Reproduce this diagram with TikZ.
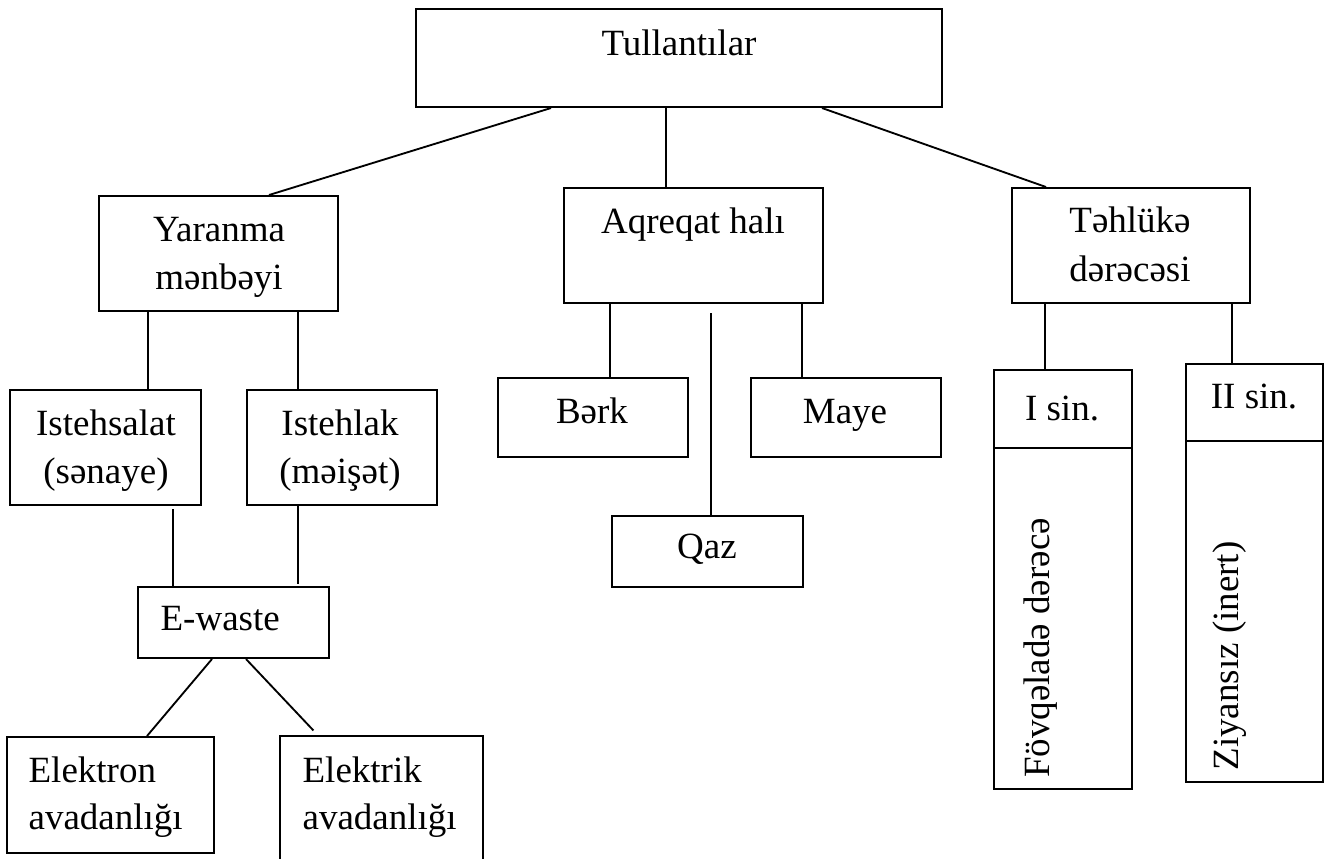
\documentclass[tikz,border=0pt]{standalone}
\usepackage{fontspec}
\setmainfont{Liberation Serif}
\usetikzlibrary{calc,fit}
\begin{document}
\begin{tikzpicture}[x=0.3243pt,y=-0.3243pt,
  box/.style={draw,line width=0.65pt,inner sep=0pt,rectangle},
  openbox/.style={inner sep=0pt,rectangle},
  txt/.style={font=\fontsize{12}{14}\selectfont,inner sep=0pt,anchor=base},
  ltxt/.style={txt,anchor=base west},
  vtxt/.style={txt,rotate=90},
  link/.style={line width=0.6pt}]
\useasboundingbox (0,0) rectangle (1334,858);
\fill[white] (0,0) rectangle (1334,858);

% boxes
\node[box,fit={(416,9) (942,107)}] (tul) {};
\node[box,fit={(99,196) (338,311)}] (yar) {};
\node[box,fit={(564,188) (823,303)}] (aqr) {};
\node[box,fit={(1012,188) (1250,303)}] (teh) {};
\node[box,fit={(10,390) (201,505)}] (ist1) {};
\node[box,fit={(247,390) (437,505)}] (ist2) {};
\node[box,fit={(498,378) (688,457)}] (berk) {};
\node[box,fit={(751,378) (941,457)}] (maye) {};
\node[box,fit={(612,516) (803,587)}] (qaz) {};
\node[box,fit={(994,370) (1132,789)}] (isin) {};
\node[box,fit={(1186,364) (1323,782)}] (iisin) {};
\node[box,fit={(138,587) (329,658)}] (ew) {};
\node[box,fit={(7,737) (214,853)}] (elon) {};
\node[openbox,fit={(281,737) (482,875)}] (elik) {};
\draw[line width=0.65pt] (elik.south west) -- (elik.north west) -- (elik.north east) -- (elik.south east);

% dividers
\draw[line width=0.65pt] ($(isin.north west)+(0,79)$) -- ($(isin.north east)+(0,79)$);
\draw[line width=0.65pt] ($(iisin.north west)+(0,78)$) -- ($(iisin.north east)+(0,78)$);

% texts
\node[txt] (t1) at (679,55) {Tullantılar};
\node[txt] (t2a) at (219,241) {Yaranma};
\node[txt] (t2b) at (219,289) {mənbəyi};
\node[txt] (t3) at (693,233) {Aqreqat halı};
\node[txt] (t4a) at (1130,232) {Təhlükə};
\node[txt] (t4b) at (1130,281) {dərəcəsi};
\node[txt] (t5a) at (106,435) {Istehsalat};
\node[txt] (t5b) at (106,483) {(sənaye)};
\node[txt] (t6a) at (340,435) {Istehlak};
\node[txt] (t6b) at (340,483) {(məişət)};
\node[txt] (t7) at (592,423) {Bərk};
\node[txt] (t8) at (845,423) {Maye};
\node[txt] (t9) at (707,558) {Qaz};
\node[txt] (t10) at (1062,420) {I sin.};
\node[txt] (t11) at (1254,408) {II sin.};
\node[ltxt] (t12) at (160,630) {E-waste};
\node[ltxt] (t13a) at (28,782) {Elektron};
\node[ltxt] (t13b) at (28,829) {avadanlığı};
\node[ltxt] (t14a) at (302,782) {Elektrik};
\node[ltxt] (t14b) at (302,829) {avadanlığı};
\node[vtxt] (t15) at (1049,648) {Fövqəladə dərəcə};
\node[vtxt] (t16) at (1238,656) {Ziyansız (inert)};

% connectors
\draw[link] ($(tul.south west)+(136,0)$) -- ($(yar.north west)+(171,0)$);
\draw[link] ($(tul.south west)+(251,0)$) -- ($(aqr.north west)+(103,0)$);
\draw[link] ($(tul.south west)+(407,0)$) -- ($(teh.north west)+(35,0)$);
\draw[link] ($(yar.south west)+(50,0)$) -- ($(ist1.north west)+(139,0)$);
\draw[link] ($(yar.south west)+(200,0)$) -- ($(ist2.north west)+(52,0)$);
\draw[link] ($(ist1.south west)+(164,3)$) -- ($(ew.north west)+(36,0)$);
\draw[link] ($(ist2.south west)+(52,0)$) -- ($(ew.north west)+(161,-2)$);
\draw[link] ($(ew.south west)+(75,0)$) -- ($(elon.north west)+(141,0)$);
\draw[link] ($(ew.south west)+(109,0)$) -- ($(elik.north west)+(33,-6)$);
\draw[link] ($(aqr.south west)+(47,0)$) -- ($(berk.north west)+(113,0)$);
\draw[link] ($(aqr.south west)+(239,0)$) -- ($(maye.north west)+(52,0)$);
\draw[link] ($(aqr.south west)+(148,9)$) -- ($(qaz.north west)+(100,0)$);
\draw[link] ($(teh.south west)+(34,0)$) -- ($(isin.north west)+(52,0)$);
\draw[link] ($(teh.south west)+(221,0)$) -- ($(iisin.north west)+(47,0)$);
\end{tikzpicture}
\end{document}
